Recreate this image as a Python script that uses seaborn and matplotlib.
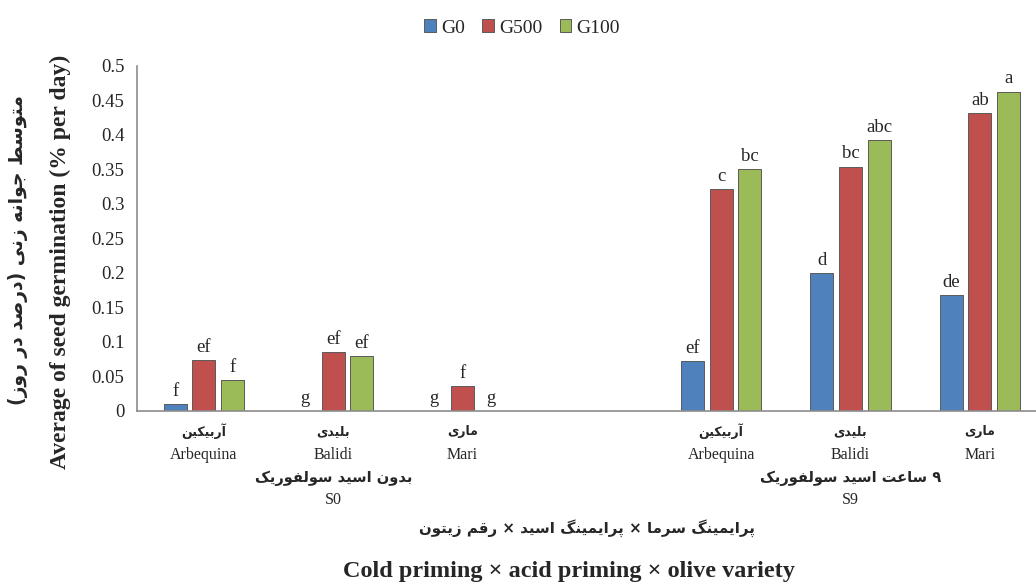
import matplotlib
matplotlib.use("Agg")
import matplotlib.pyplot as plt
import seaborn as sns
import pandas as pd

# values
treatments = ['S0 Arbequina', 'S0 Balidi', 'S0 Mari', 'S9 Arbequina', 'S9 Balidi', 'S9 Mari']
slot_order = ['S0 Arbequina', 'S0 Balidi', 'S0 Mari', 'gap', 'S9 Arbequina', 'S9 Balidi', 'S9 Mari']
levels = ['G0', 'G500', 'G100']
g0 = [0.010, 0.0, 0.0, 0.072, 0.200, 0.168]
g500 = [0.073, 0.085, 0.036, 0.322, 0.354, 0.432]
g100 = [0.045, 0.079, 0.0, 0.350, 0.393, 0.463]
letters_g0 = ['f', 'g', 'g', 'ef', 'd', 'de']
letters_g500 = ['ef', 'ef', 'f', 'c', 'bc', 'ab']
letters_g100 = ['f', 'ef', 'g', 'bc', 'abc', 'a']

variety_fa = ['آربیکین', 'بلیدی', 'ماری', '', 'آربیکین', 'بلیدی', 'ماری']
variety_en = ['Arbequina', 'Balidi', 'Mari', '', 'Arbequina', 'Balidi', 'Mari']
group_fa = ['', 'بدون اسید سولفوریک', '', '', '', '۹ ساعت اسید سولفوریک', '']
group_en = ['', 'S0', '', '', '', 'S9', '']

ytick_values = [0, 0.05, 0.1, 0.15, 0.2, 0.25, 0.3, 0.35, 0.4, 0.45, 0.5]
ytick_labels = ['0', '0.05', '0.1', '0.15', '0.2', '0.25', '0.3', '0.35', '0.4', '0.45', '0.5']

colors = ['#4F81BD', '#C0504D', '#9BBB59']

# matplotlib has no Arabic shaping, so pick presentation forms by hand
# (isolated, final[, initial, medial])
AR = {
    '\u0627': '\uFE8D\uFE8E', '\u0622': '\uFE81\uFE82', '\u062F': '\uFEA9\uFEAA',
    '\u0631': '\uFEAD\uFEAE', '\u0632': '\uFEAF\uFEB0', '\u0648': '\uFEED\uFEEE',
    '\u0628': '\uFE8F\uFE90\uFE91\uFE92', '\u067E': '\uFB56\uFB57\uFB58\uFB59',
    '\u062A': '\uFE95\uFE96\uFE97\uFE98', '\u062C': '\uFE9D\uFE9E\uFE9F\uFEA0',
    '\u0633': '\uFEB1\uFEB2\uFEB3\uFEB4', '\u0635': '\uFEB9\uFEBA\uFEBB\uFEBC',
    '\u0637': '\uFEC1\uFEC2\uFEC3\uFEC4', '\u0639': '\uFEC9\uFECA\uFECB\uFECC',
    '\u0641': '\uFED1\uFED2\uFED3\uFED4', '\u0642': '\uFED5\uFED6\uFED7\uFED8',
    '\u06A9': '\uFB8E\uFB8F\uFB90\uFB91', '\u06AF': '\uFB92\uFB93\uFB94\uFB95',
    '\u0644': '\uFEDD\uFEDE\uFEDF\uFEE0', '\u0645': '\uFEE1\uFEE2\uFEE3\uFEE4',
    '\u0646': '\uFEE5\uFEE6\uFEE7\uFEE8', '\u0647': '\uFEE9\uFEEA\uFEEB\uFEEC',
    '\u06CC': '\uFBFC\uFBFD\uFBFE\uFBFF',
}


def fa(text):
    text = text.replace('\u064A', '\u06CC').replace('\u0643', '\u06A9')
    out = []
    for i, ch in enumerate(text):
        f = AR.get(ch)
        if f is None:
            out.append(ch)
            continue
        prev = text[i - 1] if i > 0 else ''
        nxt = text[i + 1] if i + 1 < len(text) else ''
        join_prev = prev in AR and len(AR[prev]) == 4
        join_next = len(f) == 4 and nxt in AR
        if join_prev and join_next:
            out.append(f[3])
        elif join_prev:
            out.append(f[1])
        elif join_next:
            out.append(f[2])
        else:
            out.append(f[0])
    s = ''.join(out)[::-1]
    return s.translate(str.maketrans('()', ')('))


df = pd.DataFrame({
    'treatment': treatments * 3,
    'level': [lv for lv in levels for _ in treatments],
    'value': g0 + g500 + g100,
})

sns.set_style('white')
plt.rcParams['font.family'] = ['Liberation Serif', 'DejaVu Sans']

fig = plt.figure(figsize=(10.36, 5.85), dpi=100)
ax = fig.add_axes([137 / 1036, 1 - 410.7 / 585, 1 - 137 / 1036, (410.7 - 66) / 585])

sns.barplot(data=df, x='treatment', y='value', hue='level', order=slot_order,
            hue_order=levels, palette=colors, saturation=1, width=0.666, gap=0.2,
            edgecolor='#5a5a5a', linewidth=0.7, errorbar=None, ax=ax, legend=False)

for cont, labs in zip(ax.containers, [letters_g0, letters_g500, letters_g100]):
    for bar, lab in zip(cont, labs):
        ax.annotate(lab, (bar.get_x() + bar.get_width() / 2, bar.get_height()),
                    xytext=(0, 3), textcoords='offset points', ha='center', va='bottom',
                    fontsize=13.5, family='Liberation Serif')

ax.set_ylim(0, 0.5)
ax.set_xlim(-0.518, 6.435)
ax.set_yticks(ytick_values)
ax.set_yticklabels(ytick_labels, fontsize=13.5)
ax.tick_params(axis='y', length=0, pad=9)
ticks = ax.get_xticks()
ax.set_xticks(ticks)
ax.set_xticklabels([''] * len(ticks))
ax.tick_params(axis='x', length=0)
ax.set_xlabel('')
ax.set_ylabel('')
for side in ['top', 'right']:
    ax.spines[side].set_visible(False)
for side in ['left', 'bottom']:
    ax.spines[side].set_color('#8c8c8c')
    ax.spines[side].set_linewidth(1.2)

# two-language category labels under each slot
for t, vf, ve, gf, ge in zip(ticks, variety_fa, variety_en, group_fa, group_en):
    kw = dict(xycoords=('data', 'axes fraction'), textcoords='offset points',
              ha='center', va='center')
    ax.annotate(fa(vf), (t, 0), xytext=(0, -15), fontsize=9, weight='bold',
                family='DejaVu Sans', **kw)
    ax.annotate(ve, (t, 0), xytext=(0, -32), fontsize=11.5, **kw)
    ax.annotate(fa(gf), (t, 0), xytext=(0, -48.5), fontsize=10.5, weight='bold',
                family='DejaVu Sans', **kw)
    ax.annotate(ge, (t, 0), xytext=(0, -64.5), fontsize=11.5, **kw)

fig.legend(ax.containers, levels, loc='center', bbox_to_anchor=(522 / 1036, 1 - 28 / 585),
           ncol=3, frameon=False, fontsize=14, handlelength=0.6, handleheight=0.6,
           handletextpad=0.25, columnspacing=0.9)

fig.text(587 / 1036, 1 - 528 / 585, fa('پرایمینگ سرما × پرایمینگ اسید × رقم زیتون'),
         ha='center', va='center', fontsize=10.8, weight='bold', family='DejaVu Sans')
fig.text(569 / 1036, 1 - 572 / 585, 'Cold priming × acid priming × olive variety',
         ha='center', va='center', fontsize=17.5, weight='bold')
fig.text(18 / 1036, 1 - 250 / 585, fa('متوسط جوانه زنی (درصد در روز)'), rotation=90,
         ha='center', va='center', fontsize=13.5, weight='bold', family='DejaVu Sans')
fig.text(60 / 1036, 1 - 262 / 585, 'Average of seed germination (% per day)', rotation=90,
         ha='center', va='center', fontsize=17, weight='bold')

fig.savefig('out.png', dpi=100)
